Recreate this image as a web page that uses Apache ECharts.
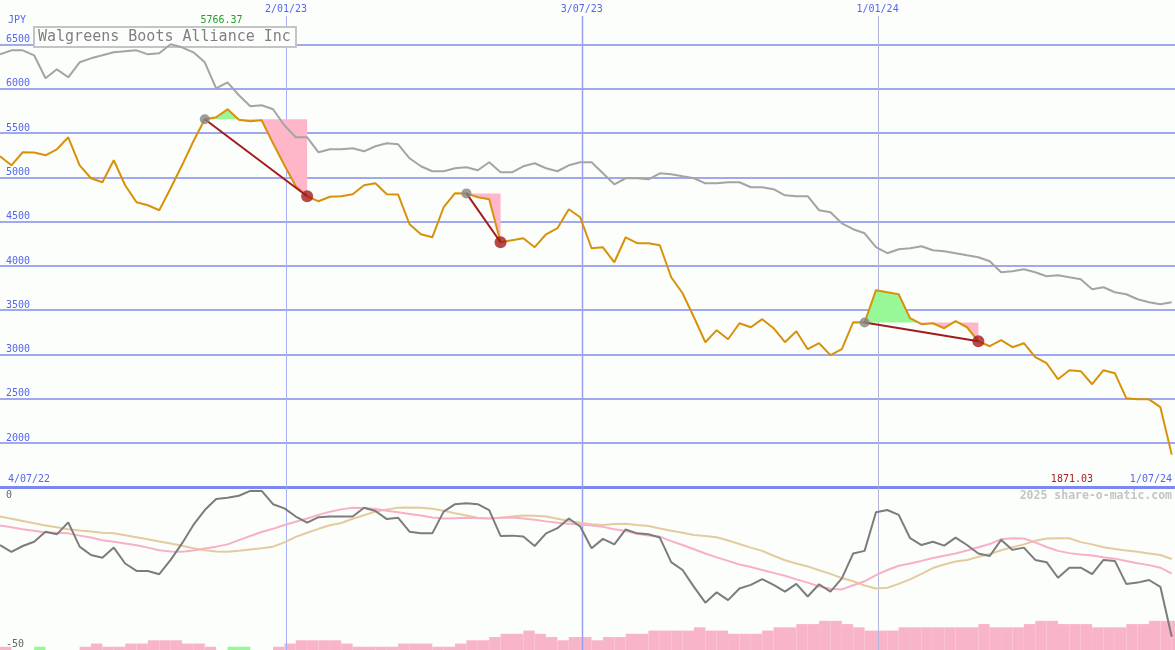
<!DOCTYPE html>
<html>
<head>
<meta charset="utf-8">
<script src="https://cdn.jsdelivr.net/npm/echarts/dist/echarts.min.js"></script>
<style>
html,body{margin:0;padding:0;background:#fcfefc;}
#c{width:1175px;height:650px;}
</style>
</head>
<body>
<div id="c"></div>
<script>
// ---------------- data ----------------
const chartTitle = 'Walgreens Boots Alliance Inc';
const currencyLabel = 'JPY';
const watermark = '2025 share-o-matic.com';
const firstWeek = '2022-07-10';
const axisStart = '2022-07-10';
const axisEnd = '2024-07-02';
const rangeLabels = ['4/07/22', '1/07/24'];
const dateLines = ['2023-01-02', '2023-07-03', '2024-01-01'];

const price = [5237, 5135, 5282, 5280, 5248, 5316, 5451, 5135, 4989, 4944,
  5192, 4910, 4718, 4684, 4628, 4876, 5135, 5406, 5654, 5677,
  5766.37, 5650, 5632, 5643, 5383, 5135, 4899, 4786, 4729, 4780,
  4786, 4808, 4910, 4932, 4808, 4805, 4470, 4357, 4323, 4662,
  4820, 4818, 4775, 4752, 4267, 4290, 4312, 4211, 4357, 4425,
  4639, 4549, 4199, 4210, 4041, 4323, 4256, 4256, 4233, 3872,
  3692, 3421, 3139, 3275, 3173, 3353, 3308, 3399, 3297, 3139,
  3263, 3060, 3128, 2993, 3060, 3365, 3362, 3726, 3703, 3680,
  3410, 3342, 3353, 3297, 3376, 3308, 3150, 3094, 3162, 3083,
  3128, 2970, 2902, 2722, 2823, 2812, 2665, 2823, 2790, 2508,
  2497, 2495, 2406, 1871.03];

const upperBand = [6387, 6432, 6432, 6376, 6117, 6218, 6128, 6297, 6342, 6376,
  6410, 6421, 6432, 6387, 6399, 6500, 6466, 6410, 6297, 6004,
  6071, 5925, 5801, 5812, 5767, 5586, 5451, 5451, 5282, 5316,
  5316, 5327, 5293, 5350, 5383, 5372, 5214, 5124, 5068, 5068,
  5102, 5113, 5079, 5169, 5056, 5056, 5124, 5158, 5102, 5068,
  5135, 5169, 5169, 5045, 4921, 4989, 4989, 4977, 5045, 5034,
  5011, 4989, 4932, 4932, 4944, 4944, 4887, 4887, 4865, 4797,
  4786, 4786, 4628, 4605, 4481, 4414, 4368, 4211, 4143, 4188,
  4199, 4222, 4177, 4165, 4143, 4120, 4098, 4053, 3929, 3940,
  3962, 3929, 3884, 3895, 3872, 3850, 3737, 3759, 3703, 3680,
  3624, 3590, 3568, 3590];

const oscillator = [-17.6, -19.7, -17.9, -16.6, -13.5, -14.3, -10.6, -18.1, -20.7, -21.5,
  -18.4, -23.3, -25.6, -25.6, -26.6, -22.2, -17.1, -11.4, -6.8, -3.4,
  -3.0, -2.4, -0.9, -0.9, -5.0, -6.3, -8.8, -10.7, -9.0, -8.8,
  -8.8, -8.8, -6.1, -7.1, -9.6, -9.2, -13.5, -14.0, -14.0, -7.3,
  -5.0, -4.7, -5.0, -6.8, -14.8, -14.7, -15.0, -17.9, -14.0, -12.4,
  -9.4, -11.9, -18.6, -15.7, -17.4, -12.8, -14.0, -14.3, -15.3, -22.9,
  -25.3, -30.5, -35.4, -32.2, -34.6, -31.0, -29.9, -28.1, -29.9, -32.0,
  -29.6, -33.5, -29.7, -32.0, -27.9, -20.2, -19.4, -7.5, -6.8, -8.3,
  -15.5, -17.6, -16.6, -17.8, -15.3, -17.6, -20.2, -21.0, -16.0, -19.1,
  -18.4, -22.2, -22.9, -27.7, -24.6, -24.6, -26.6, -22.2, -22.5, -29.6,
  -29.2, -28.4, -30.5, -45.9];

const oscAvgFast = [-11.6, -12.1, -12.7, -13.2, -13.7, -13.8, -14.0, -14.7, -15.3, -16.1,
  -16.6, -17.1, -17.7, -18.4, -19.2, -19.6, -19.7, -19.3, -18.7, -18.1,
  -17.4, -16.1, -14.8, -13.6, -12.6, -11.4, -10.4, -9.4, -8.3, -7.3,
  -6.6, -6.1, -6.2, -6.5, -7.0, -7.5, -8.0, -8.5, -9.1, -9.4,
  -9.3, -9.2, -9.3, -9.4, -9.2, -9.1, -9.4, -9.8, -10.3, -10.7,
  -11.0, -11.3, -11.6, -12.0, -12.7, -13.3, -14.1, -14.7, -15.0, -16.4,
  -17.6, -18.9, -20.2, -21.4, -22.5, -23.6, -24.4, -25.3, -26.2, -27.1,
  -28.2, -29.2, -30.4, -31.1, -31.3, -30.0, -28.8, -26.9, -25.3, -24.0,
  -23.3, -22.5, -21.6, -20.9, -20.2, -19.3, -18.3, -17.3, -15.8, -15.5,
  -15.6, -16.8, -18.2, -19.4, -20.1, -20.5, -20.8, -21.4, -21.8, -22.5,
  -23.2, -23.8, -24.6, -26.4];

const oscAvgSlow = [-8.8, -9.5, -10.2, -10.9, -11.6, -12.1, -12.7, -13.1, -13.4, -13.8,
  -14.0, -14.6, -15.2, -15.8, -16.5, -17.1, -17.8, -18.6, -19.2, -19.6,
  -19.7, -19.4, -19.0, -18.6, -18.1, -16.8, -15.1, -13.8, -12.6, -11.5,
  -10.8, -9.5, -8.4, -7.3, -6.6, -6.1, -6.0, -6.1, -6.4, -7.0,
  -7.8, -8.5, -9.2, -9.4, -9.2, -8.8, -8.5, -8.6, -8.8, -9.5,
  -10.2, -10.7, -11.2, -11.4, -11.1, -11.0, -11.4, -11.7, -12.5, -13.2,
  -13.8, -14.5, -14.8, -15.2, -16.2, -17.3, -18.4, -19.4, -20.9, -22.3,
  -23.3, -24.2, -25.4, -26.5, -27.8, -28.8, -30.1, -31.0, -30.8, -29.6,
  -28.2, -26.5, -24.7, -23.6, -22.7, -22.2, -21.2, -20.4, -19.2, -18.3,
  -17.4, -16.3, -15.6, -15.5, -15.5, -16.7, -17.4, -18.3, -18.8, -19.3,
  -19.7, -20.2, -20.7, -21.9];

const volumeLevel = [1, 0, 0, 1, 0, 0, 0, 1, 2, 1,
  1, 2, 2, 3, 3, 3, 2, 2, 1, 0,
  1, 1, 0, 0, 1, 2, 3, 3, 3, 3,
  2, 1, 1, 1, 1, 2, 2, 2, 1, 1,
  2, 3, 3, 4, 5, 5, 6, 5, 4, 3,
  4, 4, 3, 4, 4, 5, 5, 6, 6, 6,
  6, 7, 6, 6, 5, 5, 5, 6, 7, 7,
  8, 8, 9, 9, 8, 7, 6, 6, 6, 7,
  7, 7, 7, 7, 7, 7, 8, 7, 7, 7,
  8, 9, 9, 8, 8, 8, 7, 7, 7, 8,
  8, 9, 9, 9];
const greenVolumeWeeks = [3, 20, 21];

// trades: [start week index, end week index]
const trades = [[18, 27], [41, 44], [76, 86]];

// ---------------- helpers ----------------
const DAY = 86400000, WEEK = 7 * DAY;
const ts = s => Date.UTC(+s.slice(0, 4), +s.slice(5, 7) - 1, +s.slice(8, 10));
const dates = price.map((_, i) => ts(firstWeek) + i * WEEK);
const fmtDate = t => { const d = new Date(t); return d.getUTCDate() + '/' + String(d.getUTCMonth() + 1).padStart(2, '0') + '/' + String(d.getUTCFullYear()).slice(2); };
const pair = arr => arr.map((v, i) => [dates[i], v]);

const BLUE = '#5566ee';
const MONO = "'DejaVu Sans Mono', 'Liberation Mono', monospace";
const dateLineStyle = [['#a8b0f8', 1], ['#98a0f0', 1.5], ['#b0b4d8', 1]];
const LINE_TOP = 6820;

const maxIdx = price.indexOf(Math.max(...price));
const minIdx = price.indexOf(Math.min(...price));

// ---------------- chart ----------------
const chart = echarts.init(document.getElementById('c'), null, { renderer: 'canvas' });

function tradeFill(params, api) {
  const k = api.value(2);
  const [s, e] = trades[k];
  const base = price[s];
  const pts = [];
  for (let i = s; i <= e; i++) {
    if (i > s) {
      const a = price[i - 1], b = price[i];
      if ((a - base) * (b - base) < 0) {
        const f = (base - a) / (b - a);
        pts.push([dates[i - 1] + f * (dates[i] - dates[i - 1]), base]);
      }
    }
    pts.push([dates[i], price[i]]);
  }
  const up = pts.map(p => api.coord([p[0], Math.max(p[1], base)]));
  const dn = pts.map(p => api.coord([p[0], Math.min(p[1], base)]));
  const b1 = api.coord([dates[e], base]);
  const b0 = api.coord([dates[s], base]);
  return {
    type: 'group',
    children: [
      { type: 'polygon', shape: { points: up.concat([b1, b0]) }, style: { fill: '#98f898' } },
      { type: 'polygon', shape: { points: dn.concat([b1, b0]) }, style: { fill: '#ffb6c8' } }
    ]
  };
}

function dateLineTop(params, api) {
  const t = api.value(0), k = api.value(1);
  const a = api.coord([t, LINE_TOP]), b = api.coord([t, 1500]);
  const st = dateLineStyle[k];
  const x = Math.round(a[0]) + (st[1] % 2 ? 0.5 : 0);
  return {
    type: 'group',
    children: [
      { type: 'line', shape: { x1: x, y1: a[1], x2: x, y2: b[1] }, style: { stroke: st[0], lineWidth: st[1] } },
      { type: 'text', style: { text: fmtDate(t), x: a[0], y: a[1] - 2, align: 'center', verticalAlign: 'bottom', font: '10px ' + MONO, fill: BLUE } }
    ]
  };
}

function dateLineBottom(params, api) {
  const t = api.value(0), k = api.value(1);
  const a = api.coord([t, 0]), b = api.coord([t, -50]);
  const st = dateLineStyle[k];
  const x = Math.round(a[0]) + (st[1] % 2 ? 0.5 : 0);
  return { type: 'line', shape: { x1: x, y1: a[1], x2: x, y2: b[1] }, style: { stroke: st[0], lineWidth: st[1] } };
}

function volumeBar(params, api) {
  const p0 = api.coord([api.value(0), api.value(2)]);
  const p1 = api.coord([api.value(1), 0]);
  return {
    type: 'rect',
    shape: { x: p0[0], y: p0[1], width: p1[0] - p0[0], height: p1[1] - p0[1] },
    style: { fill: api.value(3) ? '#98f898' : '#f8b4c8' }
  };
}

const option = {
  backgroundColor: '#fcfefc',
  animation: false,
  grid: [
    { left: 0, right: 0, top: 0, height: 487.5, containLabel: false, outerBoundsMode: 'none' },
    { left: 0, right: 0, top: 488, height: 162, containLabel: false, outerBoundsMode: 'none' }
  ],
  xAxis: [
    { type: 'time', gridIndex: 0, min: ts(axisStart), max: ts(axisEnd),
      axisLine: { show: true, lineStyle: { color: '#7c88f0', width: 3 } },
      axisTick: { show: false }, axisLabel: { show: false }, splitLine: { show: false } },
    { type: 'time', gridIndex: 1, min: ts(axisStart), max: ts(axisEnd),
      axisLine: { show: false }, axisTick: { show: false }, axisLabel: { show: false }, splitLine: { show: false } }
  ],
  yAxis: [
    { type: 'value', gridIndex: 0, min: 1500, max: 7000, interval: 500,
      axisLine: { show: false }, axisTick: { show: false },
      splitLine: { show: true, showMinLine: false, showMaxLine: false, lineStyle: { color: '#a0a8f0', width: 2 } },
      axisLabel: { inside: true, margin: 6, verticalAlign: 'bottom', color: BLUE, fontFamily: MONO, fontSize: 10,
        showMinLabel: false, showMaxLabel: false, formatter: v => String(v) } },
    { type: 'value', gridIndex: 1, min: -50, max: 0,
      axisLine: { show: false }, axisTick: { show: false }, axisLabel: { show: false }, splitLine: { show: false } },
    { type: 'value', gridIndex: 1, min: 0, max: 50,
      axisLine: { show: false }, axisTick: { show: false }, axisLabel: { show: false }, splitLine: { show: false } }
  ],
  series: [
    { type: 'custom', name: 'dates-top', xAxisIndex: 0, yAxisIndex: 0, z: 1, silent: true,
      data: dateLines.map((d, k) => [ts(d), k]), renderItem: dateLineTop },
    { type: 'custom', name: 'trade-fill', xAxisIndex: 0, yAxisIndex: 0, z: 2, silent: true,
      data: trades.map((t, k) => [dates[t[0]], price[t[0]], k]), renderItem: tradeFill },
    { type: 'line', name: 'upper', xAxisIndex: 0, yAxisIndex: 0, z: 3, silent: true,
      data: pair(upperBand), symbol: 'none', lineStyle: { color: '#a4a4a4', width: 2 } },
    { type: 'line', name: 'price', xAxisIndex: 0, yAxisIndex: 0, z: 4, silent: true,
      data: pair(price), symbol: 'none', lineStyle: { color: '#d8920a', width: 2 } }
  ].concat(trades.map(t => ({
    type: 'line', xAxisIndex: 0, yAxisIndex: 0, z: 5, silent: true, symbol: 'none',
    data: [[dates[t[0]], price[t[0]]], [dates[t[1]], price[t[1]]]],
    lineStyle: { color: '#a01c1c', width: 2 }
  }))).concat([
    { type: 'scatter', xAxisIndex: 0, yAxisIndex: 0, z: 6, silent: true, symbolSize: 10,
      itemStyle: { color: '#848484' }, data: trades.map(t => [dates[t[0]], price[t[0]]]) },
    { type: 'scatter', xAxisIndex: 0, yAxisIndex: 0, z: 6, silent: true, symbolSize: 12,
      itemStyle: { color: '#a41c1c' }, data: trades.map(t => [dates[t[1]], price[t[1]]]) },
    { type: 'custom', name: 'volume', xAxisIndex: 1, yAxisIndex: 2, z: 1, silent: true,
      data: volumeLevel.map((h, i) => [dates[i], dates[i] + WEEK, h, greenVolumeWeeks.includes(i) ? 1 : 0]),
      renderItem: volumeBar },
    { type: 'custom', name: 'dates-bottom', xAxisIndex: 1, yAxisIndex: 1, z: 2, silent: true,
      data: dateLines.map((d, k) => [ts(d), k]), renderItem: dateLineBottom },
    { type: 'line', name: 'slow', xAxisIndex: 1, yAxisIndex: 1, z: 3, silent: true,
      data: pair(oscAvgSlow), symbol: 'none', lineStyle: { color: '#e2cc9e', width: 2 } },
    { type: 'line', name: 'fast', xAxisIndex: 1, yAxisIndex: 1, z: 4, silent: true,
      data: pair(oscAvgFast), symbol: 'none', lineStyle: { color: '#f8b0c8', width: 2 } },
    { type: 'line', name: 'osc', xAxisIndex: 1, yAxisIndex: 1, z: 5, silent: true,
      data: pair(oscillator), symbol: 'none', lineStyle: { color: '#7c7c7c', width: 2 } }
  ])
};

chart.setOption(option);

// text overlays positioned through the axes
const pMax = chart.convertToPixel({ xAxisIndex: 0, yAxisIndex: 0 }, [dates[maxIdx], price[maxIdx]]);
const pLow0 = chart.convertToPixel({ xAxisIndex: 1, yAxisIndex: 1 }, [ts(axisStart), 0]);
const pLow50 = chart.convertToPixel({ xAxisIndex: 1, yAxisIndex: 1 }, [ts(axisStart), -50]);
const pBottom = chart.convertToPixel({ xAxisIndex: 0, yAxisIndex: 0 }, [ts(axisEnd), 1500]);
const font10 = '10px ' + MONO;

chart.setOption({
  graphic: [
    { type: 'rect', z: 1, shape: { x: 34, y: 27, width: 262, height: 20 },
      style: { fill: '#fcfefc', stroke: '#c4c4c4', lineWidth: 2 } },
    { type: 'text', z: 1, style: { text: chartTitle, x: 38, y: 37.5, align: 'left', verticalAlign: 'middle',
      font: '15px ' + MONO, fill: '#808080' } },
    { type: 'text', z: 10, style: { text: currencyLabel, x: 8, y: 20, align: 'left', verticalAlign: 'middle', font: font10, fill: BLUE } },
    { type: 'text', z: 10, style: { text: price[maxIdx].toFixed(2), x: pMax[0] - 6, y: 20, align: 'center', verticalAlign: 'middle', font: font10, fill: '#22a022' } },
    { type: 'text', z: 10, style: { text: price[minIdx].toFixed(2), x: 1093, y: pBottom[1] - 8, align: 'right', verticalAlign: 'middle', font: font10, fill: '#a82020' } },
    { type: 'text', z: 10, style: { text: rangeLabels[0], x: 8, y: pBottom[1] - 8, align: 'left', verticalAlign: 'middle', font: font10, fill: BLUE } },
    { type: 'text', z: 10, style: { text: rangeLabels[1], x: pBottom[0] - 3, y: pBottom[1] - 8, align: 'right', verticalAlign: 'middle', font: font10, fill: BLUE } },
    { type: 'text', z: 10, style: { text: '0', x: 6, y: pLow0[1] + 2, align: 'left', verticalAlign: 'top', font: font10, fill: '#666666' } },
    { type: 'text', z: 10, style: { text: '-50', x: 6, y: pLow50[1] - 1, align: 'left', verticalAlign: 'bottom', font: font10, fill: '#666666' } },
    { type: 'text', z: 10, style: { text: watermark, x: 1172, y: pLow0[1] + 8, align: 'right', verticalAlign: 'middle',
      font: 'bold 11.5px ' + MONO, fill: '#c4c4c4' } }
  ]
});
</script>
</body>
</html>
